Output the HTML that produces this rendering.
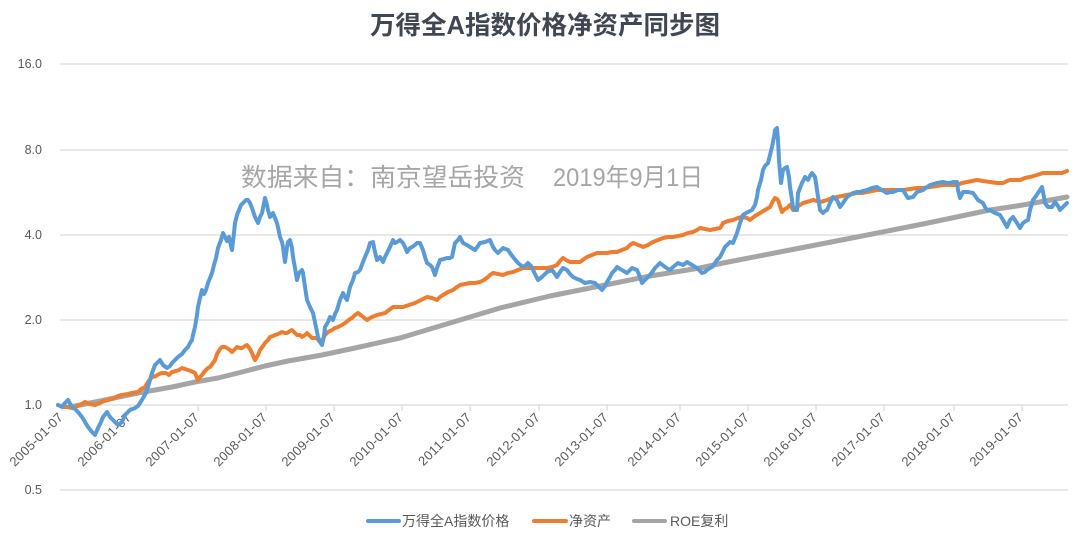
<!DOCTYPE html>
<html><head><meta charset="utf-8"><style>
html,body{margin:0;padding:0;background:#fff;}
svg{display:block;}
text{font-family:"Liberation Sans","Noto Sans CJK SC",sans-serif;}
</style></head><body>
<svg width="1080" height="541" viewBox="0 0 1080 541" xmlns="http://www.w3.org/2000/svg">
<rect width="1080" height="541" fill="#fff"/>
<text x="545" y="34" text-anchor="middle" font-size="25.5" font-weight="bold" fill="#404652" style="font-family:'Liberation Sans','Noto Sans CJK SC',sans-serif">万得全A指数价格净资产同步图</text>
<g stroke="#d9d9d9" stroke-width="1.2">
<line x1="60" y1="64" x2="1068" y2="64"/>
<line x1="60" y1="150" x2="1068" y2="150"/>
<line x1="60" y1="235" x2="1068" y2="235"/>
<line x1="60" y1="320" x2="1068" y2="320"/>
<line x1="60" y1="405" x2="1068" y2="405"/>
<line x1="60" y1="490" x2="1068" y2="490"/>
</g>
<g stroke="#d9d9d9" stroke-width="1.2">
<line x1="62" y1="405" x2="62" y2="411"/><line x1="130" y1="405" x2="130" y2="411"/><line x1="198" y1="405" x2="198" y2="411"/><line x1="266" y1="405" x2="266" y2="411"/><line x1="334" y1="405" x2="334" y2="411"/><line x1="402" y1="405" x2="402" y2="411"/><line x1="470" y1="405" x2="470" y2="411"/><line x1="539" y1="405" x2="539" y2="411"/><line x1="607" y1="405" x2="607" y2="411"/><line x1="680" y1="405" x2="680" y2="411"/><line x1="748" y1="405" x2="748" y2="411"/><line x1="816" y1="405" x2="816" y2="411"/><line x1="884" y1="405" x2="884" y2="411"/><line x1="954" y1="405" x2="954" y2="411"/><line x1="1022" y1="405" x2="1022" y2="411"/>
</g>
<g font-size="12.5" fill="#595959" text-anchor="end">
<text x="42" y="68">16.0</text>
<text x="42" y="154">8.0</text>
<text x="42" y="239">4.0</text>
<text x="42" y="324">2.0</text>
<text x="42" y="409">1.0</text>
<text x="42" y="494">0.5</text>
</g>
<g font-size="13" fill="#595959" text-anchor="end" letter-spacing="0.3">
<text transform="translate(64,418) rotate(-45)">2005-01-07</text>
<text transform="translate(132,418) rotate(-45)">2006-01-07</text>
<text transform="translate(200,418) rotate(-45)">2007-01-07</text>
<text transform="translate(268,418) rotate(-45)">2008-01-07</text>
<text transform="translate(336,418) rotate(-45)">2009-01-07</text>
<text transform="translate(404,418) rotate(-45)">2010-01-07</text>
<text transform="translate(472,418) rotate(-45)">2011-01-07</text>
<text transform="translate(541,418) rotate(-45)">2012-01-07</text>
<text transform="translate(609,418) rotate(-45)">2013-01-07</text>
<text transform="translate(682,418) rotate(-45)">2014-01-07</text>
<text transform="translate(750,418) rotate(-45)">2015-01-07</text>
<text transform="translate(818,418) rotate(-45)">2016-01-07</text>
<text transform="translate(886,418) rotate(-45)">2017-01-07</text>
<text transform="translate(956,418) rotate(-45)">2018-01-07</text>
<text transform="translate(1024,418) rotate(-45)">2019-01-07</text>
</g>
<text x="241" y="186" font-size="25" fill="#a6a6a6" textLength="284" lengthAdjust="spacingAndGlyphs">数据来自：南京望岳投资</text>
<text x="553" y="186" font-size="25" fill="#a6a6a6" textLength="150" lengthAdjust="spacingAndGlyphs">2019年9月1日</text>
<polyline fill="none" stroke="#a5a5a5" stroke-width="5" stroke-linejoin="round" stroke-linecap="round" points="70,407 105,400 138,393 172,387 195,382 218,378 242,372 265,366 288,361 322,355 355,348 400,338 450,323 500,308 550,296 600,286 650,276 700,268 723,263 790,250 857,237 923,224 990,210 1023,205 1067,197"/>
<polyline fill="none" stroke="#ed7d31" stroke-width="4" stroke-linejoin="round" stroke-linecap="round" points="58,405 64,407 68,407 72,408 75,407 80,405 85,402 90,404 95,405 100,403 104,401 108,400 114,398 118,396 122,395 128,394 132,393 138,392 141,389 145,387 148,382 152,377 156,376 159,374 162,373 166,373 169,375 172,372 176,371 179,370 182,368 185,369 188,370 191,371 195,373 197,378 198,380 200,377 202,375 205,371 208,368 210,367 213,363 215,360 217,354 220,349 222,347 225,347 227,348 230,350 232,352 235,349 237,347 240,348 242,348 245,346 247,345 250,349 252,353 254,358 255,360 258,355 260,350 263,346 265,343 268,340 270,337 273,336 275,335 278,334 282,332 285,333 287,333 290,331 292,330 295,333 297,335 300,335 302,337 305,335 307,333 310,336 312,338 315,338 317,338 319,341 321,343 323,339 325,335 328,332 332,330 335,328 338,327 342,325 345,323 350,319 352,318 355,315 358,313 362,316 367,320 372,317 377,315 381,314 385,313 389,310 393,307 398,307 403,307 409,305 415,303 421,300 427,297 432,298 437,300 440,297 443,295 448,292 453,290 457,287 460,285 465,284 470,283 475,283 480,282 484,280 488,277 490,275 493,273 498,274 503,275 508,273 513,272 518,270 523,268 528,268 533,268 540,268 547,268 552,267 557,265 560,261 563,258 566,260 570,262 575,262 580,262 584,259 587,257 592,255 597,253 602,253 607,253 612,252 617,252 622,250 627,248 630,245 633,243 636,244 638,245 641,246 643,247 648,245 653,242 658,240 663,238 668,237 673,237 678,236 683,235 688,233 693,232 697,230 700,228 705,229 710,230 715,229 720,228 722,225 723,223 728,221 733,220 738,218 743,217 747,218 750,220 755,216 760,213 765,210 770,207 773,201 775,198 777,199 778,200 780,206 782,212 785,209 787,208 790,205 792,208 793,210 797,207 800,205 803,203 807,202 810,201 813,200 817,201 820,202 824,201 827,200 832,198 837,197 842,196 847,195 852,194 857,193 862,193 867,192 872,191 877,190 883,190 890,190 897,190 903,190 910,189 917,188 923,188 930,187 937,186 943,185 950,185 957,185 962,183 967,182 972,181 977,180 983,181 990,182 997,183 1003,183 1007,181 1010,180 1015,180 1020,180 1025,178 1030,177 1037,175 1043,173 1050,173 1057,173 1062,173 1067,171"/>
<polyline fill="none" stroke="#5b9bd5" stroke-width="4" stroke-linejoin="round" stroke-linecap="round" points="58,405 62,407 65,403 68,400 72,407 75,409 78,412 82,417 85,422 88,427 92,432 95,435 98,428 101,422 103,417 107,412 110,417 113,420 115,422 118,425 122,422 125,415 128,412 130,410 135,408 138,406 140,403 143,398 146,393 148,387 150,380 152,373 155,365 158,362 160,360 163,365 167,368 170,366 172,363 175,360 178,357 182,354 185,350 188,347 190,343 192,340 193,335 195,327 197,315 198,307 200,298 202,290 204,294 206,290 208,283 210,278 212,273 214,265 216,258 218,248 221,240 223,233 225,237 227,241 229,237 231,246 232,250 234,233 235,223 237,215 239,210 241,205 243,203 246,200 248,200 250,203 252,208 254,214 255,217 257,221 258,223 260,217 262,213 264,203 265,198 267,205 268,210 270,217 272,215 273,213 275,218 277,223 279,232 280,237 282,242 283,247 284,255 285,262 287,247 288,242 290,240 292,248 293,257 295,268 297,280 299,273 302,270 303,273 305,287 307,300 310,307 313,313 316,327 318,337 320,342 322,345 324,336 325,327 328,322 330,317 333,320 335,314 337,310 340,300 343,293 345,297 347,300 350,287 353,280 355,273 358,272 360,270 363,262 365,257 368,250 370,243 373,242 375,252 377,260 380,257 383,262 385,257 387,253 390,247 393,240 395,243 397,242 400,240 403,243 405,247 407,252 410,248 412,247 415,245 417,243 420,243 423,250 425,257 427,263 430,265 432,267 435,275 437,268 440,260 444,259 447,258 450,258 452,257 455,243 458,240 460,237 463,243 467,245 470,247 475,250 478,246 480,243 485,242 490,240 493,247 495,250 498,253 500,251 503,248 508,250 510,253 513,257 518,263 523,267 526,265 528,263 531,266 533,270 536,276 538,280 542,277 545,274 547,272 552,270 555,274 557,277 560,272 563,268 567,270 570,274 573,277 577,279 580,280 585,283 590,282 595,283 598,286 600,288 602,290 605,286 607,282 610,277 612,273 615,270 617,267 620,269 622,270 627,273 630,270 632,268 637,270 640,277 642,283 645,280 648,277 650,275 653,271 655,268 658,265 660,263 665,267 668,269 670,270 673,267 678,263 683,265 687,262 692,265 697,268 700,271 702,273 705,272 707,270 710,268 712,267 715,263 717,260 720,257 722,253 725,247 728,244 730,242 733,243 735,238 737,233 740,223 743,215 746,213 748,212 752,210 755,205 757,197 758,190 761,180 763,170 765,166 768,163 770,155 772,147 774,137 775,130 777,128 778,140 779,160 780,172 781,183 783,170 785,168 787,167 789,177 790,187 792,200 793,207 795,210 797,210 798,193 800,188 802,183 805,177 808,180 810,176 812,173 815,177 816,183 817,190 819,203 820,210 823,213 825,211 827,210 830,203 833,197 837,200 840,207 843,203 847,197 850,195 853,193 857,192 860,192 863,191 867,190 872,188 877,187 880,189 882,190 887,193 890,192 893,192 898,190 903,190 906,195 908,198 913,197 917,192 920,191 923,190 927,187 930,185 937,183 943,182 947,183 950,183 953,182 957,182 958,190 960,198 963,192 968,192 973,193 978,200 983,203 985,207 987,210 990,210 995,213 1000,215 1003,220 1007,227 1010,220 1013,217 1017,223 1020,228 1023,223 1026,221 1028,220 1030,210 1033,200 1036,196 1038,193 1040,190 1042,187 1044,197 1045,203 1048,207 1052,207 1055,202 1058,206 1060,210 1063,207 1067,203"/>
<g stroke-width="4" stroke-linecap="round">
<line x1="368" y1="521" x2="399" y2="521" stroke="#5b9bd5"/>
<line x1="534" y1="521" x2="566" y2="521" stroke="#ed7d31"/>
<line x1="634" y1="521" x2="665" y2="521" stroke="#a5a5a5"/>
</g>
<g font-size="14" fill="#595959">
<text x="402" y="526">万得全A指数价格</text>
<text x="569" y="526">净资产</text>
<text x="670" y="526">ROE复利</text>
</g>
</svg>
</body></html>
